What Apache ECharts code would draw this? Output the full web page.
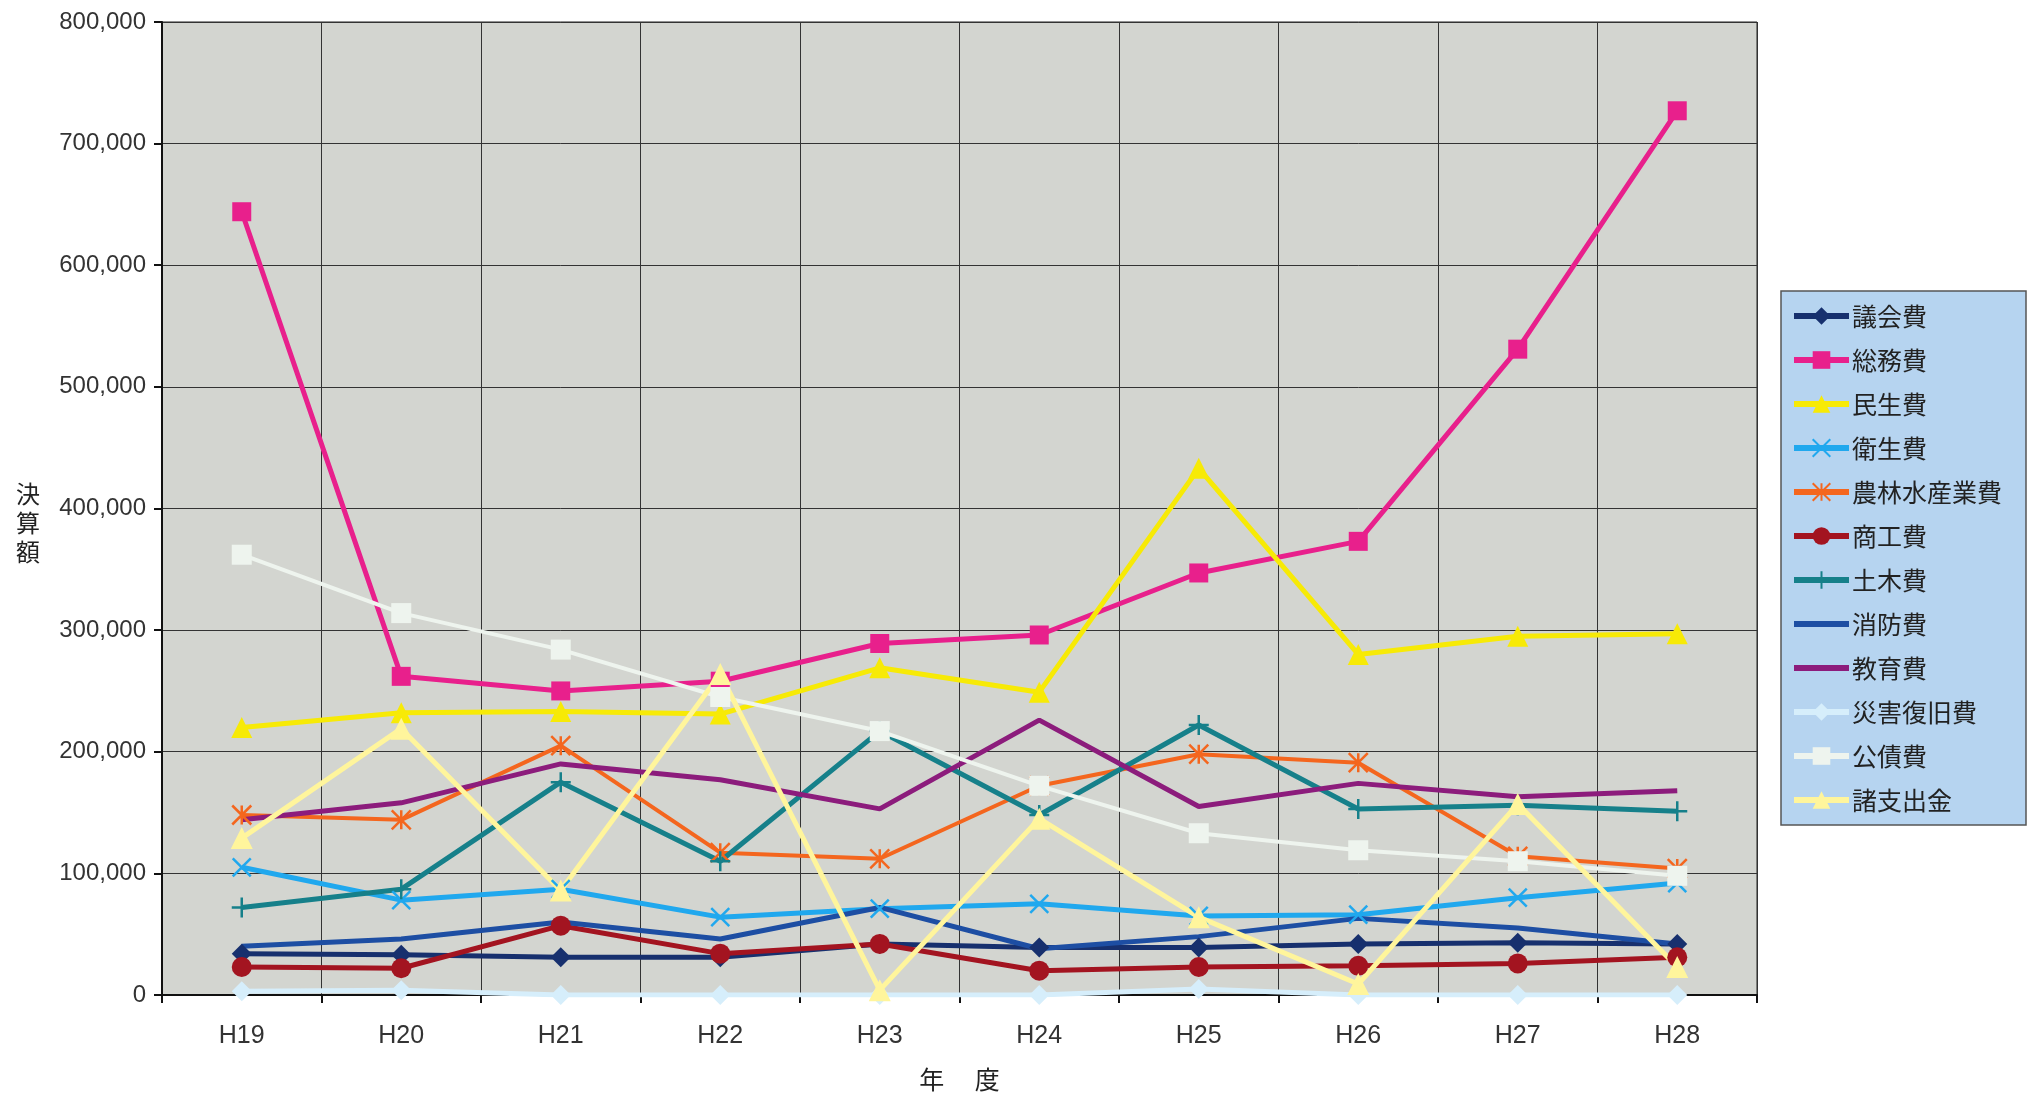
<!DOCTYPE html>
<html>
<head>
<meta charset="utf-8">
<title>決算額の推移</title>
<script src="https://cdn.jsdelivr.net/npm/echarts@6/dist/echarts.min.js"></script>
<style>
	html, body { margin: 0; padding: 0; background: #ffffff; }
	#main { width: 2038px; height: 1097px; }
</style>
</head>
<body>
<div id="main"></div>
<script>
// 年度
var years = ['H19', 'H20', 'H21', 'H22', 'H23', 'H24', 'H25', 'H26', 'H27', 'H28'];

// 各費目の決算額（グラフから読み取った概算値）
var gikaihi = [34000, 33000, 31000, 31000, 42000, 39000, 39000, 42000, 43000, 42000]; //議会費
var somuhi = [644000, 262000, 250000, 258000, 289000, 296000, 347000, 373000, 531000, 727000]; //総務費
var minseihi = [220000, 232000, 233000, 231000, 269000, 249000, 433000, 280000, 295000, 297000]; //民生費
var eiseihi = [105000, 78000, 87000, 64000, 71000, 75000, 65000, 66000, 80000, 92000]; //衛生費
var norinhi = [148000, 144000, 205000, 117000, 112000, 172000, 198000, 191000, 114000, 104000]; //農林水産業費
var shokohi = [23000, 22000, 57000, 34000, 42000, 20000, 23000, 24000, 26000, 31000]; //商工費
var dobokuhi = [72000, 87000, 175000, 110000, 217000, 148000, 222000, 153000, 156000, 151000]; //土木費
var shobohi = [40000, 46000, 60000, 46000, 72000, 38000, 48000, 63000, 55000, 42000]; //消防費
var kyoikuhi = [144000, 158000, 190000, 177000, 153000, 226000, 155000, 174000, 163000, 168000]; //教育費
var saigaihi = [3000, 4000, 0, 0, 0, 0, 5000, 0, 0, 0]; //災害復旧費
var kosaihi = [362000, 314000, 284000, 245000, 217000, 172000, 133000, 119000, 110000, 98000]; //公債費
var shoshishutsu = [129000, 219000, 86000, 264000, 4000, 145000, 64000, 9000, 157000, 23000]; //諸支出金

var yTicks = [0, 100000, 200000, 300000, 400000, 500000, 600000, 700000, 800000];

var markX = 'path://M0,0L10,10M10,0L0,10';
var markStar = 'path://M5,0L5,10M0,0L10,10M10,0L0,10';
var markPlus = 'path://M5,0L5,10M0,5L10,5';
var legendBar = 'path://M0,0L110,0L110,12L0,12Z';

function makeLine(name, data, color, symbol, size, width, stroked) {
	return {
		name: name,
		type: 'line',
		data: data,
		symbol: symbol,
		symbolSize: size,
		lineStyle: { color: color, width: width },
		itemStyle: stroked ? { color: color, borderColor: color, borderWidth: 2.5 } : { color: color },
		emphasis: { disabled: true },
		animation: false
	};
}

var seriesList = [
	makeLine('議会費', gikaihi, '#17306e', 'diamond', 20, 5),
	makeLine('総務費', somuhi, '#e8208c', 'rect', 19, 5),
	makeLine('民生費', minseihi, '#f7ea06', 'triangle', 21, 5),
	makeLine('衛生費', eiseihi, '#20a8ee', markX, 18, 5, true),
	makeLine('農林水産業費', norinhi, '#f4661e', markStar, 19, 4, true),
	makeLine('商工費', shokohi, '#a31420', 'circle', 20, 5),
	makeLine('土木費', dobokuhi, '#16808a', markPlus, 20, 5, true),
	makeLine('消防費', shobohi, '#1d4ea3', 'none', 0, 5),
	makeLine('教育費', kyoikuhi, '#8c1c7c', 'none', 0, 5),
	makeLine('災害復旧費', saigaihi, '#d6eefb', 'diamond', 20, 5),
	makeLine('公債費', kosaihi, '#eef4ee', 'rect', 20, 4),
	makeLine('諸支出金', shoshishutsu, '#fff59c', 'triangle', 22, 5)
];

// 記号なしの系列は凡例を線だけにする
var legendData = [];
for(var i = 0; i < seriesList.length; i++) {
	if(seriesList[i].symbol == 'none')
		legendData.push({ name: seriesList[i].name, icon: legendBar });
	else
		legendData.push({ name: seriesList[i].name });
}

var chart = echarts.init(document.getElementById('main'));
chart.setOption({
	backgroundColor: '#ffffff',
	textStyle: { fontFamily: '"Noto Sans CJK JP", "Liberation Sans", sans-serif', color: '#333' },
	grid: {
		left: 162, right: 281, top: 22, bottom: 94,
		show: true,
		backgroundColor: '#d3d5d0',
		borderColor: '#222',
		borderWidth: 1
	},
	legend: {
		data: legendData,
		orient: 'vertical',
		left: 1781,
		top: 291,
		padding: [12, 24, 12, 10],
		backgroundColor: '#b6d4f0',
		borderColor: '#555',
		borderWidth: 1.5,
		itemWidth: 55,
		itemHeight: 22,
		itemGap: 18,
		lineStyle: { width: 6 },
		textStyle: { fontSize: 25, lineHeight: 26, color: '#222', fontFamily: '"Noto Sans CJK JP", sans-serif', padding: [0, 0, 0, -2] }
	},
	xAxis: {
		type: 'category',
		data: years,
		boundaryGap: true,
		name: '年　 度',
		nameLocation: 'middle',
		nameGap: 72,
		nameTextStyle: { fontSize: 25, color: '#222', fontFamily: '"Noto Sans CJK JP", sans-serif' },
		axisLine: { lineStyle: { color: '#111', width: 2 } },
		axisTick: { show: true, length: 8, lineStyle: { color: '#111', width: 2 } },
		axisLabel: { fontSize: 25, color: '#333', margin: 29, fontFamily: '"Liberation Sans", sans-serif' },
		splitLine: { show: true, lineStyle: { color: '#333', width: 1 } }
	},
	yAxis: {
		type: 'value',
		min: yTicks[0],
		max: yTicks[yTicks.length - 1],
		interval: 100000,
		name: '\n決\n算\n額',
		nameLocation: 'middle',
		nameRotate: 0,
		nameGap: 122,
		nameTextStyle: { fontSize: 24, lineHeight: 29, color: '#222', fontFamily: '"Noto Sans CJK JP", sans-serif' },
		axisLine: { show: true, lineStyle: { color: '#111', width: 2 } },
		axisTick: { show: true, length: 8, lineStyle: { color: '#111', width: 2 } },
		axisLabel: {
			fontSize: 24, color: '#333', margin: 16, fontFamily: '"Liberation Sans", sans-serif',
			formatter: function(v) { return v.toLocaleString('en-US'); }
		},
		splitLine: { show: true, lineStyle: { color: '#333', width: 1 } }
	},
	series: seriesList
});
</script>
</body>
</html>
